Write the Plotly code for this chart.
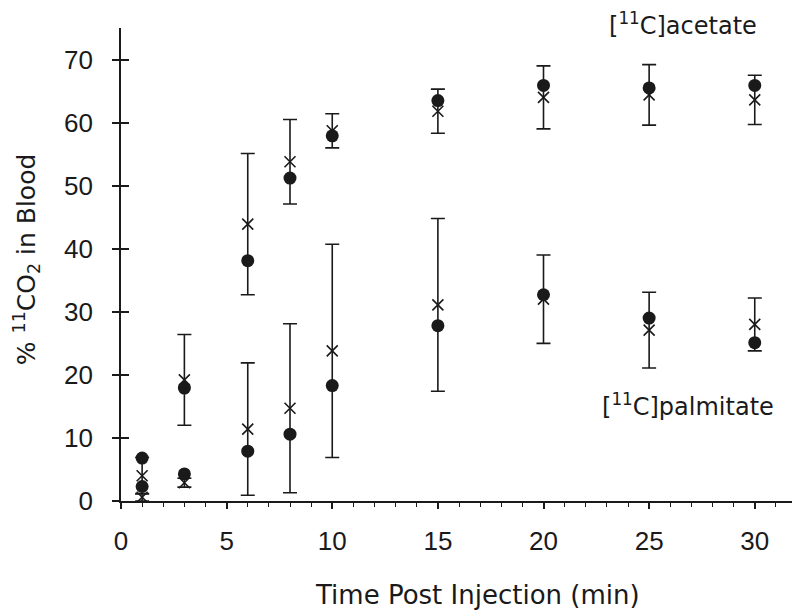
import plotly.graph_objects as go

# time points (min)
time_min = [1, 3, 6, 8, 10, 15, 20, 25, 30]

# [11C]acetate
acetate_circle = [6.8, 17.9, 38.1, 51.2, 57.9, 63.5, 65.9, 65.5, 65.9]
acetate_x = [4.0, 19.2, 43.9, 53.8, 58.7, 61.8, 64.0, 64.4, 63.6]
acetate_sd = [2.9, 7.2, 11.2, 6.7, 2.7, 3.5, 5.0, 4.8, 3.9]

# [11C]palmitate
palmitate_circle = [2.3, 4.3, 7.9, 10.6, 18.3, 27.8, 32.7, 29.0, 25.1]
palmitate_x = [0.6, 2.9, 11.4, 14.7, 23.8, 31.1, 32.0, 27.1, 28.0]
palmitate_sd = [0.6, 0.7, 10.5, 13.4, 16.9, 13.7, 7.0, 6.0, 4.2]

ink = "#1a1a1a"
tick_font = dict(family="Liberation Sans, Arial", size=26, color=ink)
lab_font = dict(family="DejaVu Sans", size=24, color=ink)

fig = go.Figure()

for xs, sd in [(acetate_x, acetate_sd), (palmitate_x, palmitate_sd)]:
    fig.add_trace(go.Scatter(
        x=time_min, y=xs, mode="markers",
        marker=dict(symbol="x-thin-open", size=11, color=ink, line=dict(width=1.6, color=ink)),
        error_y=dict(type="data", array=sd, visible=True, color=ink, thickness=1.6, width=7),
        showlegend=False,
    ))

for cs in [acetate_circle, palmitate_circle]:
    fig.add_trace(go.Scatter(
        x=time_min, y=cs, mode="markers",
        marker=dict(symbol="circle", size=13, color=ink),
        showlegend=False,
    ))

# second y axis only to draw the inner half of the crossing ticks
fig.add_trace(go.Scatter(x=[None], y=[None], yaxis="y2", showlegend=False, hoverinfo="skip"))

fig.update_xaxes(range=[0, 32], tickvals=[0, 5, 10, 15, 20, 25, 30],
                 ticks="outside", ticklen=6, tickwidth=1.5, tickcolor=ink,
                 minor=dict(dtick=1, tick0=0, ticks="outside", ticklen=4, tickwidth=1.2, tickcolor=ink),
                 showline=True, linewidth=1.6, linecolor=ink,
                 showgrid=False, zeroline=False, ticklabelstandoff=10,
                 tickfont=tick_font)
fig.update_yaxes(range=[0, 75], dtick=10, tick0=0,
                 ticks="outside", ticklen=7, tickwidth=1.5, tickcolor=ink,
                 showline=True, linewidth=1.6, linecolor=ink,
                 showgrid=False, zeroline=False, ticklabelstandoff=14,
                 tickfont=tick_font)

# page is shown with an 8px body margin, so the figure is shifted by 8px
fig.update_layout(
    width=792, height=603,
    margin=dict(l=113, r=3, t=20, b=110),
    plot_bgcolor="white", paper_bgcolor="white",
    yaxis2=dict(overlaying="y", side="left", range=[0, 75], dtick=10, tick0=0,
                ticks="inside", ticklen=8, tickwidth=1.5, tickcolor=ink,
                showticklabels=False, showline=False, showgrid=False, zeroline=False),
    font=lab_font,
    annotations=[
        dict(text="Time Post Injection (min)", xref="paper", yref="paper",
             x=0.528, y=-0.199, xanchor="center", yanchor="middle", showarrow=False,
             font=dict(family="DejaVu Sans", size=26, color=ink)),
        dict(text="% <sup>11</sup>CO<sub>2</sub> in Blood", xref="paper", yref="paper",
             x=-0.14, y=0.512, xanchor="center", yanchor="middle", textangle=-90,
             showarrow=False, font=dict(family="DejaVu Sans", size=25, color=ink)),
        dict(text="[<sup>11</sup>C]acetate", xref="paper", yref="paper",
             x=0.719, y=1.008, xanchor="left", yanchor="middle", showarrow=False,
             font=lab_font),
        dict(text="[<sup>11</sup>C]palmitate", xref="paper", yref="paper",
             x=0.709, y=0.203, xanchor="left", yanchor="middle", showarrow=False,
             font=lab_font),
    ],
)

fig.write_html("out.html")
